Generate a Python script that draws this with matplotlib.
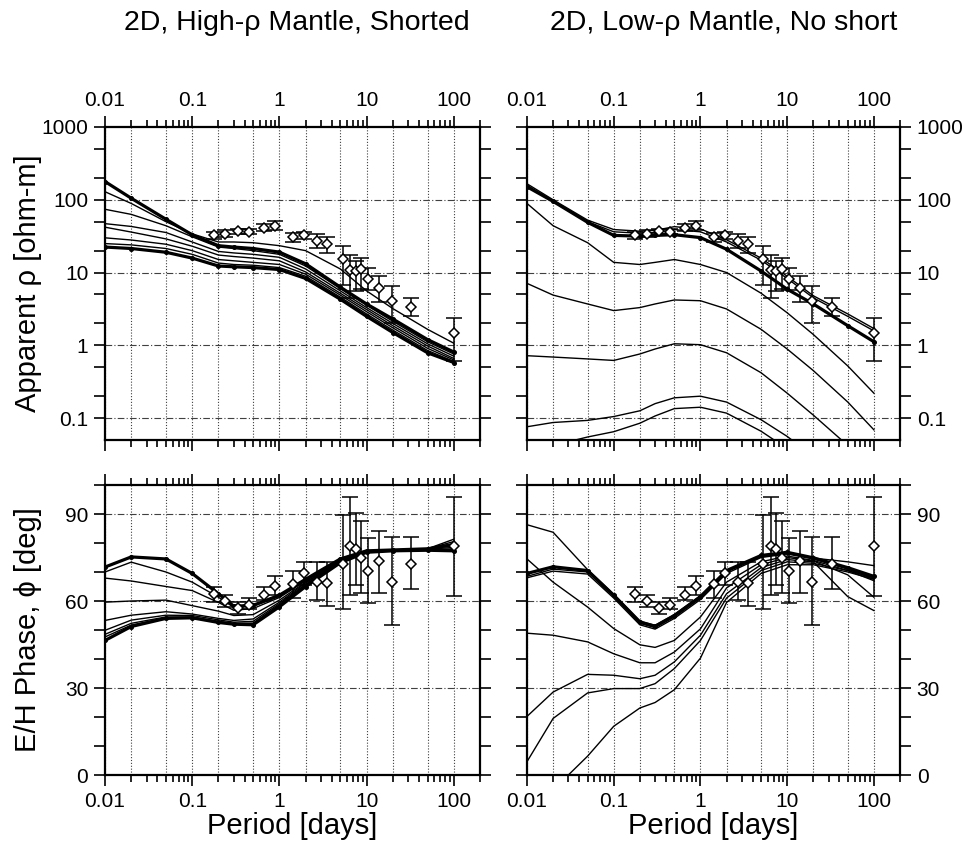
import numpy as np
import matplotlib
matplotlib.use('Agg')
import matplotlib.pyplot as plt
from matplotlib.ticker import FixedLocator, NullFormatter, FuncFormatter

plt.rcParams['font.family'] = ['Liberation Sans', 'DejaVu Sans']

# ---------------- data ----------------
period_model = [0.01, 0.02, 0.05, 0.1, 0.2, 0.3, 0.5, 1, 2, 5, 10, 20, 50, 100]

# observed responses
period_obs = [0.176, 0.241, 0.334, 0.446, 0.662, 0.891, 1.445, 1.93, 2.69, 3.51,
              5.30, 6.48, 7.52, 8.73, 10.5, 13.9, 19.4, 32.5, 100]
rho_obs = [32.3, 34, 37, 36.6, 41.5, 44.2, 31, 32.3, 27, 24.3,
           15.2, 10.8, 10.5, 11.3, 8.1, 6.2, 4.1, 3.4, 1.49]
rho_lo = [29, 30.5, 34, 33.5, 37, 38.5, 26, 29, 22, 18.5,
          6.8, 4.5, 5.6, 5.9, 5.8, 4.0, 2.05, 2.5, 0.6]
rho_hi = [36, 38, 40, 40, 46.5, 51, 35, 36, 33.5, 30.5,
          23, 17.5, 14.5, 15.8, 11.7, 8.9, 6.5, 4.5, 2.35]
phase_obs = [62.3, 60.0, 57.6, 58.5, 62.2, 65.1, 65.7, 69.6, 66.7, 66.2,
             72.8, 78.8, 78.0, 74.9, 70.5, 73.7, 66.7, 72.8, 78.8]
phase_lo = [59.6, 57.9, 55.6, 57.1, 60.2, 61.9, 61.0, 65.4, 60.4, 58.3,
            57.3, 62.1, 65.6, 62.7, 59.4, 62.7, 51.6, 64.0, 61.6]
phase_hi = [64.8, 61.9, 59.6, 61.2, 64.8, 68.5, 70.2, 73.4, 73.4, 73.6,
            89.8, 95.8, 90.3, 87.5, 81.6, 84.3, 82.0, 82.0, 96.0]

# 2D high-rho mantle, shorted: apparent resistivity models
hr_rho_1 = [178, 105, 54, 33, 23.4, 22.4, 21.4, 19.1, 13.2, 6.3, 3.7, 2.3, 1.2, 0.81]
hr_rho_2 = [129, 89, 50, 34, 26.3, 26.3, 25.7, 23.4, 20, 11.2, 5.6, 3.2, 1.66, 1.07]
hr_rho_3 = [74, 63, 44, 31, 22.4, 21.4, 20, 17.8, 12.3, 6.0, 3.55, 2.14, 1.12, 0.76]
hr_rho_4 = [47, 43, 35.5, 26.3, 19.5, 18.6, 17.8, 16.2, 11.2, 5.6, 3.3, 2.0, 1.05, 0.71]
hr_rho_5 = [42, 36, 29, 23, 17.4, 16.6, 15.8, 14.5, 10.2, 5.2, 3.1, 1.86, 0.98, 0.66]
hr_rho_6 = [30, 28, 24.5, 20, 15.1, 14.5, 13.8, 12.9, 9.5, 4.9, 2.9, 1.74, 0.91, 0.63]
hr_rho_7 = [25, 24, 21.4, 17.8, 13.5, 12.9, 12.6, 11.7, 8.9, 4.6, 2.7, 1.62, 0.85, 0.60]
hr_rho_8 = [22.4, 21.4, 19, 15.8, 12.3, 12.0, 11.7, 11.0, 8.3, 4.3, 2.5, 1.5, 0.79, 0.58]

# 2D high-rho mantle, shorted: phase models
hr_ph_1 = [71.7, 75.2, 74.5, 69.5, 62.5, 58.2, 58.5, 62.0, 67.5, 74.5, 77.3, 77.6, 78.0, 79.5]
hr_ph_2 = [70.0, 73.4, 70.0, 66.5, 61.3, 57.8, 58.2, 61.6, 67.2, 74.3, 77.2, 77.6, 78.0, 80.5]
hr_ph_3 = [67.9, 66.9, 65.0, 63.6, 59.5, 56.8, 57.4, 61.2, 66.9, 74.2, 77.1, 77.6, 78.0, 81.3]
hr_ph_4 = [59.6, 60.0, 60.3, 58.4, 56.5, 55.0, 55.3, 60.3, 66.5, 74.0, 77.0, 77.5, 78.0, 79.0]
hr_ph_5 = [53.3, 55.1, 56.3, 55.5, 54.0, 53.3, 53.8, 59.6, 66.2, 73.8, 77.0, 77.5, 77.8, 78.5]
hr_ph_6 = [49.9, 53.4, 55.1, 55.0, 53.5, 52.7, 53.0, 59.1, 65.8, 73.6, 76.9, 77.4, 77.7, 78.0]
hr_ph_7 = [48.5, 52.3, 54.5, 54.5, 53.0, 52.3, 52.4, 58.7, 65.5, 73.4, 76.8, 77.4, 77.6, 77.6]
hr_ph_8 = [47.6, 51.7, 54.2, 54.3, 52.8, 52.1, 52.1, 58.4, 65.2, 73.3, 76.8, 77.3, 77.5, 77.4]
hr_ph_9 = [46.4, 51.2, 54.0, 54.2, 52.6, 52.0, 51.8, 58.0, 65.0, 73.2, 76.8, 77.3, 77.5, 77.3]

# 2D low-rho mantle, no short: apparent resistivity models
lr_rho_1 = [166, 100, 52.5, 39, 37, 38, 42.7, 39.8, 28.2, 15.8, 8.9, 4.8, 2.7, 1.70]
lr_rho_1b = [158, 95, 50, 36.3, 34.7, 35.5, 38.9, 36.3, 26.3, 14.8, 8.3, 4.5, 2.5, 1.58]
lr_rho_2 = [151, 95, 49, 32.4, 31.6, 32.4, 33.1, 30.2, 20.9, 10.5, 5.9, 3.7, 1.86, 1.12]
lr_rho_3 = [89, 44, 25.7, 13.8, 12.9, 13.8, 15.1, 12.9, 10, 5.2, 2.8, 1.41, 0.52, 0.22]
lr_rho_4 = [7.1, 4.9, 3.7, 3.0, 3.3, 3.7, 4.2, 4.1, 3.16, 1.66, 0.89, 0.45, 0.166, 0.069]
lr_rho_5 = [0.72, 0.69, 0.65, 0.62, 0.76, 0.89, 1.05, 1.02, 0.79, 0.42, 0.22, 0.11, 0.042, 0.018]
lr_rho_6 = [0.076, 0.087, 0.093, 0.105, 0.126, 0.158, 0.19, 0.2, 0.166, 0.095, 0.056, 0.030, 0.0126, 0.0063]
lr_rho_7 = [0.035, 0.042, 0.055, 0.065, 0.085, 0.107, 0.135, 0.141, 0.117, 0.066, 0.038, 0.02, 0.008, 0.004]

# 2D low-rho mantle, no short: phase models
lr_ph_1 = [69.5, 71.8, 70.5, 62.0, 52.8, 51.3, 55.0, 61.5, 70.5, 75.7, 76.8, 74.9, 71.5, 68.5]
lr_ph_1b = [68.5, 71.0, 70.0, 61.5, 52.3, 50.8, 54.5, 61.0, 70.0, 75.3, 76.5, 74.7, 71.2, 68.0]
lr_ph_1c = [68.0, 70.3, 69.3, 61.0, 51.8, 50.3, 54.0, 60.5, 69.5, 75.0, 76.2, 74.5, 71.0, 67.5]
lr_ph_2 = [86.3, 83.7, 70.8, 62.3, 53.0, 51.6, 55.3, 61.8, 70.3, 75.5, 76.6, 74.8, 73.5, 72.2]
lr_ph_3 = [74.5, 66.5, 57.9, 50.5, 44.9, 44.0, 46.4, 54.5, 66.5, 73.5, 75.5, 74.0, 70.5, 67.0]
lr_ph_4 = [48.9, 48.2, 45.9, 41.8, 38.7, 38.7, 42.4, 50.4, 64.5, 72.5, 75.0, 73.8, 69.0, 61.3]
lr_ph_5 = [20.2, 28.6, 34.7, 34.4, 33.2, 34.4, 39.0, 48.2, 62.5, 71.5, 74.3, 73.5, 61.5, 56.7]
lr_ph_6 = [4.6, 19.5, 28.3, 29.8, 29.8, 31.5, 36.7, 46.4, 61.0, 70.5, 73.5, 73.0, 70.5, 68.0]
period_lr_ph_7 = [0.03, 0.05, 0.1, 0.2, 0.3, 0.5, 1, 2, 5, 10, 20, 50, 100]
lr_ph_7 = [0.0, 6.5, 16.8, 23.1, 25.0, 29.4, 40.3, 59.5, 69.5, 72.5, 72.5, 70.0, 67.5]

titles = ["2D, High-\u03c1 Mantle, Shorted", "2D, Low-\u03c1 Mantle, No short"]
rho_label = "Apparent \u03c1 [ohm-m]"
phase_label = "E/H Phase, \u03d5 [deg]"
period_label = "Period [days]"

# ---------------- figure ----------------
W, H = 964, 846
fig = plt.figure(figsize=(W / 100, H / 100), dpi=100)


def add_ax(x0, y0, x1, y1):
    return fig.add_axes([x0 / W, 1 - y1 / H, (x1 - x0) / W, (y1 - y0) / H])


ax_rl = add_ax(105, 127, 480, 440)
ax_rr = add_ax(527, 127, 900, 440)
ax_pl = add_ax(105, 485, 480, 775)
ax_pr = add_ax(527, 485, 900, 775)

vgrid = [0.01, 0.02, 0.05, 0.1, 0.2, 0.5, 1, 2, 5, 10, 20, 50, 100]
xmajor = [0.01, 0.1, 1, 10, 100]
xminor = [m * d for d in [0.01, 0.1, 1, 10, 100] for m in range(2, 10)]
fmt = FuncFormatter(lambda v, p: f"{v:g}")

TICK_FS = 15
LAB_FS = 21

for ax in (ax_rl, ax_rr, ax_pl, ax_pr):
    ax.set_xscale('log')
    ax.set_xlim(0.01, 200)
    for v in vgrid:
        ax.axvline(v, color='0.25', lw=0.8, ls=(0, (1, 1.6)), zorder=1)
    ax.xaxis.set_major_locator(FixedLocator(xmajor))
    ax.xaxis.set_minor_locator(FixedLocator(xminor))
    ax.xaxis.set_major_formatter(fmt)
    ax.xaxis.set_minor_formatter(NullFormatter())
    for s in ax.spines.values():
        s.set_linewidth(1.6)
    ax.tick_params(which='both', direction='out', top=True, bottom=True,
                   left=True, right=True, width=1.2, labelsize=TICK_FS, pad=4)
    ax.tick_params(which='major', length=8)
    ax.tick_params(which='minor', length=5)

# rho axes
for ax in (ax_rl, ax_rr):
    ax.set_yscale('log')
    ax.set_ylim(0.05, 1000)
    for v in [0.1, 1, 10, 100]:
        ax.axhline(v, color='0.25', lw=0.8, ls=(0, (6, 2, 1, 2)), zorder=1)
    ax.yaxis.set_major_locator(FixedLocator([0.1, 1, 10, 100, 1000]))
    ax.yaxis.set_minor_locator(FixedLocator([0.2, 0.5, 2, 5, 20, 50, 200, 500]))
    ax.yaxis.set_major_formatter(fmt)
    ax.yaxis.set_minor_formatter(NullFormatter())
    ax.tick_params(axis='y', which='minor', length=8)
    ax.tick_params(axis='x', labeltop=True, labelbottom=False)

# phase axes
for ax in (ax_pl, ax_pr):
    ax.set_ylim(0, 100)
    for v in [30, 60, 90]:
        ax.axhline(v, color='0.25', lw=0.8, ls=(0, (6, 2, 1, 2)), zorder=1)
    ax.yaxis.set_major_locator(FixedLocator([0, 30, 60, 90]))
    ax.yaxis.set_minor_locator(FixedLocator([10, 20, 40, 50, 70, 80, 100]))
    ax.tick_params(axis='y', which='minor', length=8)
    ax.tick_params(axis='x', labeltop=False, labelbottom=True)

for ax in (ax_rr, ax_pr):
    ax.tick_params(axis='y', labelleft=False, labelright=True)


def curves(ax, series, thick):
    for i, s in enumerate(series):
        if isinstance(s, tuple):
            per, val = s
        else:
            per, val = period_model, s
        if i in thick:
            ax.plot(per, val, color='k', lw=2.3, zorder=3, solid_joinstyle='round')
            ax.plot(per, val, 'o', color='k', ms=2.6, zorder=3)
        else:
            ax.plot(per, val, color='k', lw=1.0, zorder=3, solid_joinstyle='round')


curves(ax_rl, [hr_rho_1, hr_rho_2, hr_rho_3, hr_rho_4, hr_rho_5, hr_rho_6, hr_rho_7, hr_rho_8], thick=[0, 7])
curves(ax_rr, [lr_rho_1, lr_rho_1b, lr_rho_2, lr_rho_3, lr_rho_4, lr_rho_5, lr_rho_6, lr_rho_7], thick=[2])
curves(ax_pl, [hr_ph_1, hr_ph_2, hr_ph_3, hr_ph_4, hr_ph_5, hr_ph_6, hr_ph_7, hr_ph_8, hr_ph_9], thick=[0, 8])
curves(ax_pr, [lr_ph_1, lr_ph_1b, lr_ph_1c, lr_ph_2, lr_ph_3, lr_ph_4, lr_ph_5, lr_ph_6,
               (period_lr_ph_7, lr_ph_7)], thick=[0])


def data(ax, y, lo, hi):
    y = np.asarray(y)
    err = [y - np.asarray(lo), np.asarray(hi) - y]
    ax.errorbar(period_obs, y, yerr=err, fmt='none', ecolor='k', elinewidth=1.1,
                capsize=6, capthick=1.1, zorder=4)
    ax.plot(period_obs, y, 'D', ms=5.2, mfc='white', mec='k', mew=1.1, zorder=5)


data(ax_rl, rho_obs, rho_lo, rho_hi)
data(ax_rr, rho_obs, rho_lo, rho_hi)
data(ax_pl, phase_obs, phase_lo, phase_hi)
data(ax_pr, phase_obs, phase_lo, phase_hi)

fig.text(297 / W, 1 - 23 / H, titles[0], ha='center', va='center', fontsize=20.5)
fig.text(724 / W, 1 - 23 / H, titles[1], ha='center', va='center', fontsize=20.5)
fig.text(28 / W, 1 - 283 / H, rho_label, ha='center', va='center', rotation=90, fontsize=LAB_FS)
fig.text(28 / W, 1 - 630 / H, phase_label, ha='center', va='center', rotation=90, fontsize=LAB_FS)
fig.text(292 / W, 1 - 826 / H, period_label, ha='center', va='center', fontsize=LAB_FS)
fig.text(713 / W, 1 - 826 / H, period_label, ha='center', va='center', fontsize=LAB_FS)

fig.savefig('out.png', dpi=100)
